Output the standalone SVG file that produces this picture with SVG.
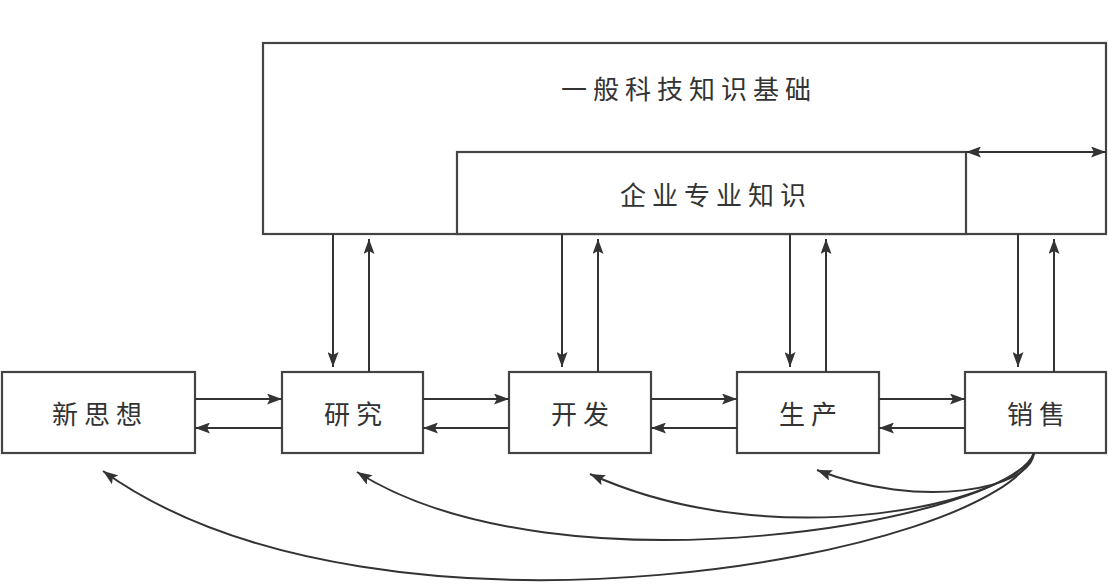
<svg xmlns="http://www.w3.org/2000/svg" width="1108" height="587" viewBox="0 0 1108 587">
<style>
.box{fill:#fff;stroke:#444;stroke-width:2.2}
.t{font-family:"Noto Sans CJK SC","Noto Sans CJK JP",sans-serif;font-size:26px;letter-spacing:6px;fill:#333;text-anchor:middle;dominant-baseline:central}
.c{fill:none;stroke:#333;stroke-width:2}
</style>
<defs>
<marker id="a" viewBox="0 0 15 11" refX="15" refY="5.5" markerWidth="15" markerHeight="11" markerUnits="userSpaceOnUse" orient="auto-start-reverse">
<path d="M0,0 L15,5.5 L0,11 L3,5.5 Z" fill="#333"/>
</marker>
</defs>
<rect width="1108" height="587" fill="#fff"/>
<g id="general">
<rect class="box" x="263" y="43" width="843" height="191"/>
<text class="t" x="689" y="87">一般科技知识基础</text>
</g>
<g id="enterprise">
<rect class="box" x="457" y="152" width="509" height="82"/>
<text class="t" x="716" y="193">企业专业知识</text>
</g>
<g id="idea">
<rect class="box" x="2" y="372" width="193" height="81"/>
<text class="t" x="100" y="412">新思想</text>
</g>
<g id="research">
<rect class="box" x="282" y="372" width="141" height="81"/>
<text class="t" x="356" y="412">研究</text>
</g>
<g id="develop">
<rect class="box" x="509" y="372" width="142" height="81"/>
<text class="t" x="583" y="412">开发</text>
</g>
<g id="produce">
<rect class="box" x="737" y="372" width="142" height="81"/>
<text class="t" x="811" y="412">生产</text>
</g>
<g id="sales">
<rect class="box" x="965" y="372" width="141" height="81"/>
<text class="t" x="1039" y="412">销售</text>
</g>
<g id="connectors">
<line class="c" x1="966" y1="152" x2="1106" y2="152" marker-start="url(#a)" marker-end="url(#a)"/>
<line class="c" x1="195" y1="399" x2="282" y2="399" marker-end="url(#a)"/>
<line class="c" x1="282" y1="428" x2="195" y2="428" marker-end="url(#a)"/>
<line class="c" x1="423" y1="399" x2="509" y2="399" marker-end="url(#a)"/>
<line class="c" x1="509" y1="428" x2="423" y2="428" marker-end="url(#a)"/>
<line class="c" x1="651" y1="399" x2="737" y2="399" marker-end="url(#a)"/>
<line class="c" x1="737" y1="428" x2="651" y2="428" marker-end="url(#a)"/>
<line class="c" x1="879" y1="399" x2="965" y2="399" marker-end="url(#a)"/>
<line class="c" x1="965" y1="428" x2="879" y2="428" marker-end="url(#a)"/>
<line class="c" x1="333" y1="234" x2="333" y2="367" marker-end="url(#a)"/>
<line class="c" x1="369" y1="372" x2="369" y2="239" marker-end="url(#a)"/>
<line class="c" x1="562" y1="234" x2="562" y2="367" marker-end="url(#a)"/>
<line class="c" x1="598" y1="372" x2="598" y2="239" marker-end="url(#a)"/>
<line class="c" x1="790" y1="234" x2="790" y2="367" marker-end="url(#a)"/>
<line class="c" x1="826" y1="372" x2="826" y2="239" marker-end="url(#a)"/>
<line class="c" x1="1018" y1="234" x2="1018" y2="367" marker-end="url(#a)"/>
<line class="c" x1="1054" y1="372" x2="1054" y2="239" marker-end="url(#a)"/>
<path class="c" d="M1034,453 C1030,490 920,510 817,470" marker-end="url(#a)"/>
<path class="c" d="M1034,453 C1020,500 780,560 590,474" marker-end="url(#a)"/>
<path class="c" d="M1034,453 C1010,520 560,600 357,472" marker-end="url(#a)"/>
<path class="c" d="M1034,453 C1000,555 380,670 103,471" marker-end="url(#a)"/>
</g>
</svg>
